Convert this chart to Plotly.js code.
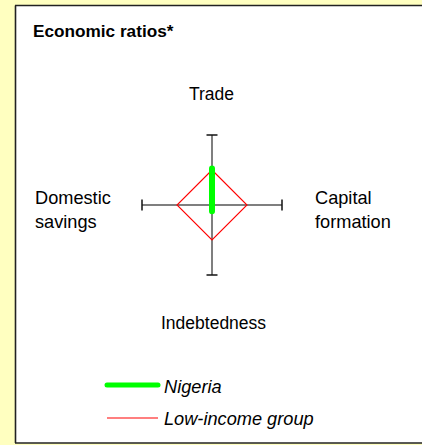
<!DOCTYPE html>
<html><head><meta charset="utf-8">
<script src="https://cdn.plot.ly/plotly-3.0.1.min.js"></script>
<style>html,body{margin:0;padding:0;background:#FFFFC0;overflow:hidden;} #chart{width:422px;height:445px;}</style>
</head><body><div id="chart"></div>
<script>
// ---- data ----
const axisNames = ["Trade", "Capital formation", "Indebtedness", "Domestic savings"];
const axisLabels = ["Trade", "Capital<br>formation", "Indebtedness", "Domestic<br>savings"];
const axisAngles = [90, 0, 270, 180];
const seriesNames = ["Nigeria", "Low-income group"];
const nigeriaValues = [0.52, 0, 0.09, 0];
const lowIncomeValues = [0.5, 0.5, 0.5, 0.5];
const axisMax = 1;
const chartTitle = "Economic ratios*";

// ---- geometry ----
const W = 422, H = 445;
const cx = 212, cy = 205, unitPx = 70;
const FONT = "Liberation Sans, Arial, sans-serif";
const px = x => x / W;
const py = y => 1 - y / H;

function toXY(vals) {
  const xs = [], ys = [];
  vals.forEach((v, i) => {
    const a = axisAngles[i] * Math.PI / 180;
    xs.push(Math.round(v * Math.cos(a) * 1e6) / 1e6);
    ys.push(Math.round(v * Math.sin(a) * 1e6) / 1e6);
  });
  xs.push(xs[0]); ys.push(ys[0]);
  return {x: xs, y: ys};
}

const low = toXY(lowIncomeValues);
const nig = toXY(nigeriaValues);
const GREEN = "#00FF00", RED = "#FF0000";

const traces = [
  {type: "scatter", mode: "lines", name: seriesNames[1], x: low.x, y: low.y,
   line: {color: RED, width: 1.1}, hoverinfo: "skip"},
  {type: "scatter", mode: "lines", name: seriesNames[0], x: nig.x, y: nig.y,
   line: {color: GREEN, width: 6}, hoverinfo: "skip"}
];

const shapes = [];
// white panel (fill) + left/top/bottom borders only
shapes.push({type: "rect", xref: "paper", yref: "paper", x0: px(15), x1: px(470), y0: py(443), y1: py(5.5),
  fillcolor: "#FFFFFF", line: {width: 0}, layer: "below"});
const border = {color: "#222222", width: 1.6};
shapes.push({type: "line", xref: "paper", yref: "paper", x0: px(15.5), x1: px(15.5), y0: py(443), y1: py(5.5), line: border, layer: "below"});
shapes.push({type: "line", xref: "paper", yref: "paper", x0: px(15), x1: px(470), y0: py(5.5), y1: py(5.5), line: border, layer: "below"});
shapes.push({type: "line", xref: "paper", yref: "paper", x0: px(15), x1: px(470), y0: py(443), y1: py(443), line: border, layer: "below"});
// axis spokes and end caps
const capHalf = 5.5 / unitPx;
axisAngles.forEach(deg => {
  const a = deg * Math.PI / 180;
  const ex = axisMax * Math.cos(a), ey = axisMax * Math.sin(a);
  shapes.push({type: "line", xref: "x", yref: "y", x0: 0, y0: 0, x1: ex, y1: ey,
    line: {color: "#7F7F7F", width: 2}, layer: "below"});
  const pxn = -Math.sin(a), pyn = Math.cos(a);
  shapes.push({type: "line", xref: "x", yref: "y",
    x0: ex + pxn * capHalf, y0: ey + pyn * capHalf, x1: ex - pxn * capHalf, y1: ey - pyn * capHalf,
    line: {color: "#111111", width: 1.5}, layer: "below"});
});
// legend samples
shapes.push({type: "line", xref: "paper", yref: "paper", x0: px(107), x1: px(158), y0: py(385), y1: py(385),
  line: {color: GREEN, width: 5}, layer: "above"});
shapes.push({type: "line", xref: "paper", yref: "paper", x0: px(107), x1: px(158), y0: py(418), y1: py(418),
  line: {color: RED, width: 1.2}, layer: "above"});

const labFont = {family: FONT, size: 17.5, color: "#000000"};
const sideFont = {family: FONT, size: 18.2, color: "#000000"};
const legFont = {family: FONT, size: 18.2, color: "#000000", style: "italic"};
const annotations = [
  {text: "<b>" + chartTitle + "</b>", xref: "paper", yref: "paper", x: px(31), y: py(31),
   xanchor: "left", yanchor: "middle", showarrow: false, font: {family: FONT, size: 17.2, color: "#000"}},
  {text: axisLabels[0], xref: "paper", yref: "paper", x: px(211.5), y: py(94), xanchor: "center", yanchor: "middle",
   showarrow: false, font: labFont},
  {text: axisLabels[1], xref: "paper", yref: "paper", x: px(313), y: py(210), xanchor: "left", yanchor: "middle",
   align: "left", showarrow: false, font: sideFont},
  {text: axisLabels[2], xref: "paper", yref: "paper", x: px(213.5), y: py(323), xanchor: "center", yanchor: "middle",
   showarrow: false, font: labFont},
  {text: axisLabels[3], xref: "paper", yref: "paper", x: px(33), y: py(210), xanchor: "left", yanchor: "middle",
   align: "left", showarrow: false, font: sideFont},
  {text: seriesNames[0], xref: "paper", yref: "paper", x: px(162), y: py(387), xanchor: "left", yanchor: "middle",
   showarrow: false, font: legFont},
  {text: seriesNames[1], xref: "paper", yref: "paper", x: px(162), y: py(419), xanchor: "left", yanchor: "middle",
   showarrow: false, font: legFont}
];

const layout = {
  width: W, height: H,
  margin: {l: 0, r: 0, t: 0, b: 0, pad: 0},
  paper_bgcolor: "#FFFFC0", plot_bgcolor: "rgba(0,0,0,0)",
  showlegend: false,
  xaxis: {range: [-cx / unitPx, (W - cx) / unitPx], visible: false, fixedrange: true},
  yaxis: {range: [-(H - cy) / unitPx, cy / unitPx], visible: false, fixedrange: true},
  shapes: shapes, annotations: annotations,
  font: {family: FONT}
};

Plotly.newPlot("chart", traces, layout, {staticPlot: true, displayModeBar: false}).then(gd => {
  gd.querySelectorAll("path").forEach(p => {
    const s = (p.style.stroke || "").replace(/\s/g, "");
    if (s === "rgb(0,255,0)") { p.style.strokeLinecap = "round"; p.style.strokeLinejoin = "round"; }
  });
});
</script>
</body></html>
